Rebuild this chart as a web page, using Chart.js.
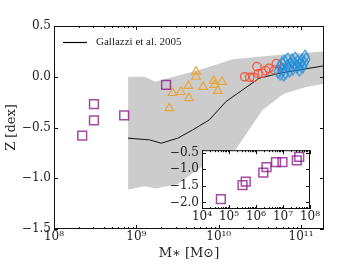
<!DOCTYPE html>
<html>
<head>
<meta charset="utf-8">
<script src="https://cdn.jsdelivr.net/npm/chart.js@4.4.1/dist/chart.umd.min.js"></script>
<style>
  body { margin: 0; background: #fff; }
  #wrap { position: relative; width: 343px; height: 270px; }
  #main { position: absolute; left: 0; top: 0; }
  #inset { position: absolute; left: 150px; top: 140px; }
</style>
</head>
<body>
<div id="wrap">
  <canvas id="main" width="343" height="270"></canvas>
  <canvas id="inset" width="176" height="110"></canvas>
</div>
<script>
// log10 stellar mass / metallicity
var dwarfLogM = [8.343, 8.485, 8.485, 8.852, 9.361];
var dwarfZ = [-0.58, -0.43, -0.27, -0.38, -0.08];

var triLogM = [9.725, 9.725, 9.44, 9.54, 9.63, 9.64, 9.40, 9.81, 9.94, 9.95, 9.99, 10.04];
var triZ = [0.05, 0.00, -0.16, -0.15, -0.09, -0.21, -0.31, -0.10, -0.04, -0.08, -0.14, -0.05];

var circLogM = [10.315, 10.376, 10.424, 10.464, 10.48, 10.53, 10.57, 10.61, 10.68, 10.70];
var circZ = [0.00, -0.005, -0.005, 0.10, 0.03, 0.035, 0.06, 0.083, 0.067, 0.13];

var diaLogM = [10.72, 10.74, 10.75, 10.77, 10.78, 10.79, 10.80, 10.81, 10.83, 10.84, 10.86, 10.87,
               10.89, 10.90, 10.92, 10.93, 10.95, 10.96, 10.98, 10.99, 11.01, 11.02, 11.04, 11.05, 11.06];
var diaZ = [0.05, 0.10, 0.03, 0.13, 0.07, 0.02, 0.15, 0.04, 0.10, 0.17, 0.06, 0.12,
            0.16, 0.08, 0.13, 0.18, 0.10, 0.15, 0.07, 0.12, 0.16, 0.10, 0.14, 0.20, 0.17];

// Gallazzi et al. 2005 relation and its spread
var galLogM = [8.898, 9.161, 9.302, 9.503, 9.684, 9.886, 10.088, 10.289, 10.491, 10.733, 10.975, 11.28];
var galZ = [-0.605, -0.622, -0.655, -0.605, -0.524, -0.425, -0.245, -0.130, -0.015, 0.034, 0.067, 0.108];
var bandLogM = [8.9, 9.1, 9.23, 9.5, 9.77, 10.16, 10.33, 10.53, 10.77, 10.82, 11.06, 11.28];
var bandHi = [0.0, 0.0, -0.05, 0.01, 0.07, 0.17, 0.184, 0.20, 0.22, 0.223, 0.237, 0.25];
var bandLo = [-1.11, -1.08, -1.10, -1.06, -0.90, -0.77, -0.57, -0.33, -0.18, -0.16, -0.10, -0.07];

// inset: low-mass galaxies
var insetLogM = [4.70, 5.50, 5.62, 6.27, 6.39, 6.74, 6.98, 7.51, 7.60];
var insetZ = [-1.90, -1.48, -1.37, -1.10, -0.93, -0.78, -0.78, -0.73, -0.62];

var mainYTicks = [-1.5, -1.0, -0.5, 0.0, 0.5];
var insetYTicks = [-2.0, -1.5, -1.0, -0.5];

function pts(lx, ys) {
  return lx.map(function (l, i) { return { x: Math.pow(10, l), y: ys[i] }; });
}

var sup = { '0': '⁰', '1': '¹', '2': '²', '3': '³', '4': '⁴', '5': '⁵', '6': '⁶', '7': '⁷', '8': '⁸', '9': '⁹' };
function powLabel(v) {
  var e = String(Math.round(Math.log10(v)));
  return '10' + e.split('').map(function (c) { return sup[c]; }).join('');
}
function zLabel(v) { return v.toFixed(1).replace('-', '−'); }

function decades(scale) {
  var t = [];
  for (var e = Math.ceil(Math.log10(scale.min) - 1e-9); Math.pow(10, e) <= scale.max * 1.0001; e++) t.push({ value: Math.pow(10, e) });
  scale.ticks = t;
}

function thinDiamond(w, h, color) {
  var c = document.createElement('canvas');
  c.width = w + 2; c.height = h + 2;
  var g = c.getContext('2d');
  g.strokeStyle = color; g.lineWidth = 1.1;
  g.beginPath();
  g.moveTo(c.width / 2, 1); g.lineTo(c.width - 1, c.height / 2);
  g.lineTo(c.width / 2, c.height - 1); g.lineTo(1, c.height / 2);
  g.closePath(); g.stroke();
  return c;
}

// frame + inward ticks on all four sides
var frameTicks = {
  id: 'frameTicks',
  beforeDraw: function (chart, args, opts) {
    if (!opts.white) return;
    var a = chart.chartArea, ctx = chart.ctx;
    ctx.save(); ctx.fillStyle = '#fff';
    ctx.fillRect(a.left, a.top, a.width, a.height);
    ctx.restore();
  },
  afterDraw: function (chart) {
    var ctx = chart.ctx, a = chart.chartArea, x = chart.scales.x, y = chart.scales.y;
    ctx.save();
    ctx.strokeStyle = '#111';
    ctx.lineWidth = 1;
    ctx.strokeRect(a.left + 0.5, a.top + 0.5, a.width - 1, a.height - 1);
    ctx.beginPath();
    for (var e = Math.floor(Math.log10(x.min)); e <= Math.ceil(Math.log10(x.max)); e++) {
      for (var m = 1; m < 10; m++) {
        var v = m * Math.pow(10, e);
        if (v < x.min * 0.999 || v > x.max * 1.001) continue;
        var px = Math.round(x.getPixelForValue(v)) + 0.5;
        var len = m === 1 ? 4 : 2;
        ctx.moveTo(px, a.bottom); ctx.lineTo(px, a.bottom - len);
        ctx.moveTo(px, a.top); ctx.lineTo(px, a.top + len);
      }
    }
    y.ticks.forEach(function (t) {
      var py = Math.round(y.getPixelForValue(t.value)) + 0.5;
      ctx.moveTo(a.left, py); ctx.lineTo(a.left + 4, py);
      ctx.moveTo(a.right, py); ctx.lineTo(a.right - 4, py);
    });
    ctx.stroke();
    ctx.restore();
  }
};

var legendBox = {
  id: 'legendBox',
  afterDraw: function (chart) {
    var ctx = chart.ctx, a = chart.chartArea;
    var y0 = a.top + 16.5;
    ctx.save();
    ctx.strokeStyle = '#000'; ctx.lineWidth = 1.2;
    ctx.beginPath(); ctx.moveTo(a.left + 9, y0); ctx.lineTo(a.left + 33, y0); ctx.stroke();
    ctx.fillStyle = '#222';
    ctx.font = '11px "Liberation Serif"';
    ctx.textBaseline = 'middle';
    ctx.fillText('Gallazzi et al. 2005', a.left + 42, y0);
    ctx.restore();
  }
};

var tickFont = { family: 'DejaVu Serif', size: 12 };
var purple = 'rgba(140,30,140,0.8)';

new Chart(document.getElementById('main'), {
  type: 'scatter',
  data: {
    datasets: [
      { data: pts(dwarfLogM, dwarfZ), pointStyle: 'rect', pointRadius: 6.2, borderColor: purple, borderWidth: 1.5, backgroundColor: 'rgba(0,0,0,0)', order: 1 },
      { data: pts(triLogM, triZ), pointStyle: 'triangle', pointRadius: 5, borderColor: '#e9a53a', borderWidth: 1.2, backgroundColor: 'rgba(0,0,0,0)', order: 2 },
      { data: pts(circLogM, circZ), pointStyle: 'circle', pointRadius: 4.2, borderColor: '#f0553f', borderWidth: 1.2, backgroundColor: 'rgba(0,0,0,0)', order: 3 },
      { data: pts(diaLogM, diaZ), pointStyle: thinDiamond(8, 13, 'rgba(25,140,220,0.9)'), pointRadius: 5, order: 1 },
      { data: pts(galLogM, galZ), showLine: true, pointRadius: 0, borderColor: '#111', borderWidth: 1, fill: false, order: 8 },
      { data: pts(bandLogM, bandHi), showLine: true, pointRadius: 0, borderWidth: 0, borderColor: 'rgba(0,0,0,0)', backgroundColor: '#cccccc', fill: '+1', order: 9 },
      { data: pts(bandLogM, bandLo), showLine: true, pointRadius: 0, borderWidth: 0, borderColor: 'rgba(0,0,0,0)', fill: false, order: 10 }
    ]
  },
  options: {
    responsive: false,
    animation: false,
    layout: { padding: { top: 26, right: 19, left: 0, bottom: 0 } },
    plugins: { legend: { display: false }, tooltip: { enabled: false }, frameTicks: { white: false } },
    scales: {
      x: {
        type: 'logarithmic', min: 1e8, max: 1.9e11,
        afterBuildTicks: decades,
        afterFit: function (s) { s.height = 41; },
        grid: { display: false, drawTicks: false },
        border: { display: false },
        ticks: { font: tickFont, color: '#222', padding: 1, maxRotation: 0, autoSkip: false, callback: powLabel },
        title: { display: true, text: 'M∗ [M⊙]', font: { family: 'DejaVu Serif', size: 13 }, color: '#222', padding: { top: 0, bottom: 9 } }
      },
      y: {
        min: -1.5, max: 0.5,
        afterBuildTicks: function (s) { s.ticks = mainYTicks.map(function (v) { return { value: v }; }); },
        afterFit: function (s) { s.width = 54; },
        grid: { display: false, drawTicks: false },
        border: { display: false },
        ticks: { font: tickFont, color: '#222', padding: 3, callback: zLabel },
        title: { display: true, text: 'Z [dex]', font: { family: 'DejaVu Serif', size: 13 }, color: '#222', padding: { top: 4, bottom: 0 } }
      }
    }
  },
  plugins: [frameTicks, legendBox]
});

new Chart(document.getElementById('inset'), {
  type: 'scatter',
  data: {
    datasets: [
      { data: pts(insetLogM, insetZ), pointStyle: 'rect', pointRadius: 6.2, borderColor: purple, borderWidth: 1.5, backgroundColor: 'rgba(0,0,0,0)' }
    ]
  },
  options: {
    responsive: false,
    animation: false,
    layout: { padding: { top: 8, right: 16, left: 0, bottom: 0 } },
    plugins: { legend: { display: false }, tooltip: { enabled: false }, frameTicks: { white: true } },
    scales: {
      x: {
        type: 'logarithmic', min: 1e4, max: 1e8,
        afterBuildTicks: decades,
        afterFit: function (s) { s.height = 41; },
        grid: { display: false, drawTicks: false },
        border: { display: false },
        ticks: { font: tickFont, color: '#222', padding: 1, maxRotation: 0, autoSkip: false, callback: powLabel }
      },
      y: {
        min: -2.2, max: -0.42,
        afterBuildTicks: function (s) { s.ticks = insetYTicks.map(function (v) { return { value: v }; }); },
        afterFit: function (s) { s.width = 52; },
        grid: { display: false, drawTicks: false },
        border: { display: false },
        ticks: { font: tickFont, color: '#222', padding: 3, callback: zLabel }
      }
    }
  },
  plugins: [frameTicks]
});
</script>
</body>
</html>
